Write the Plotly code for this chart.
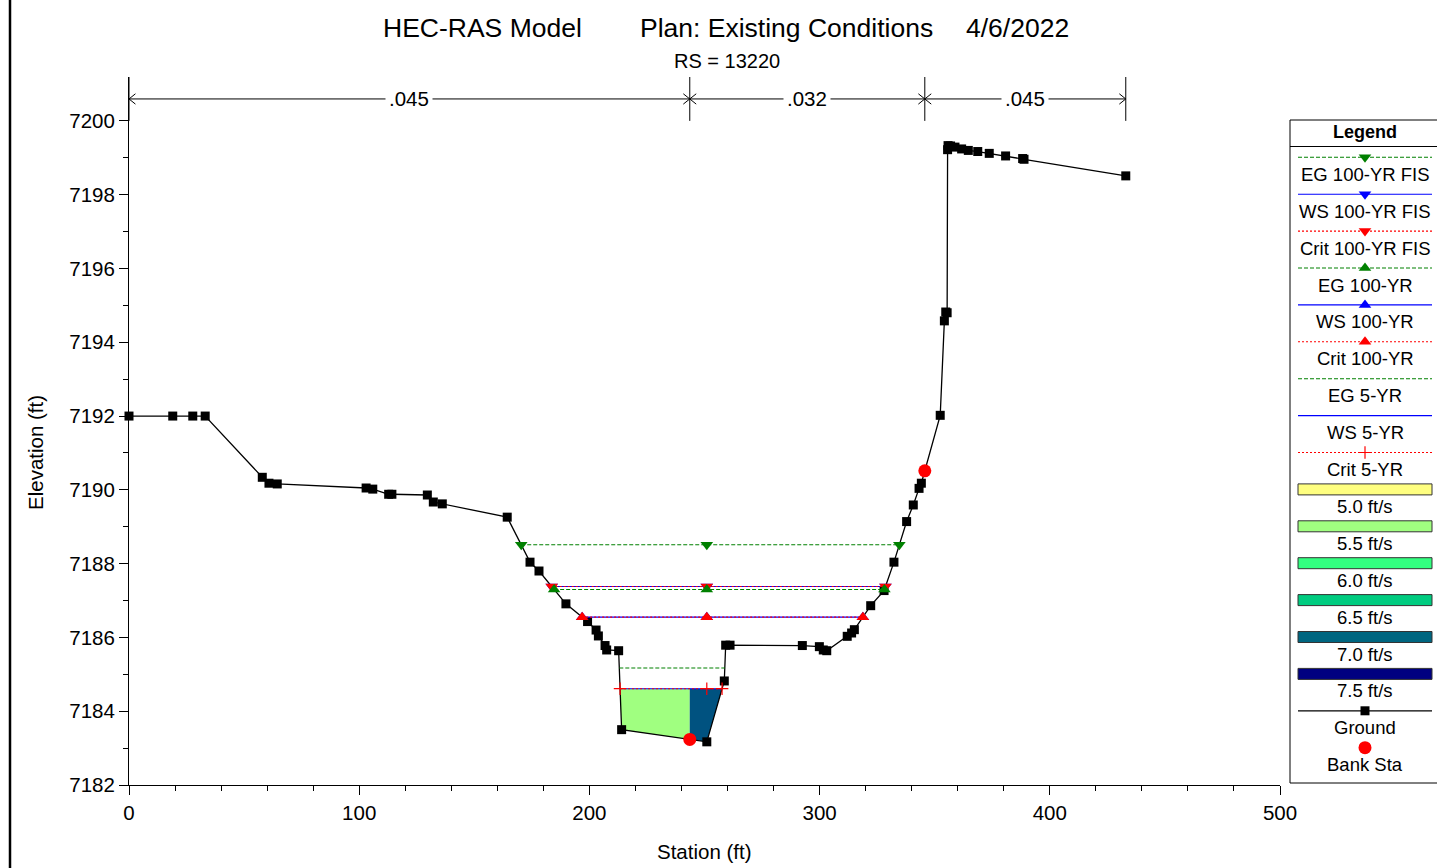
import plotly.graph_objects as go

# ---------------- data ----------------
ground_sta = [0.0, 19.0, 27.7, 33.1, 57.9, 60.8, 64.4, 103.0, 105.9, 112.8, 114.2,
              129.6, 132.2, 136.1, 164.3, 174.2, 178.1, 189.8, 199.2, 202.9, 203.9,
              206.8, 207.5, 212.7, 214.0, 251.0, 258.6, 259.2, 261.1, 292.5, 299.9,
              301.6, 303.1, 312.0, 313.9, 315.1, 322.2, 328.0, 332.3, 337.8, 340.7,
              343.2, 344.2, 352.4, 354.2, 354.8, 355.4, 355.6, 355.8, 356.9, 358.8,
              361.7, 364.6, 368.7, 373.7, 380.8, 388.2, 388.8, 433.0]
ground_elev = [7192.00, 7192.00, 7192.00, 7192.00, 7190.34, 7190.18, 7190.16, 7190.05, 7190.02, 7189.88, 7189.88,
               7189.86, 7189.67, 7189.62, 7189.26, 7188.04, 7187.80, 7186.91, 7186.43, 7186.20, 7186.04,
               7185.78, 7185.66, 7185.64, 7183.50, 7183.17, 7184.82, 7185.79, 7185.79, 7185.78, 7185.75,
               7185.66, 7185.64, 7186.03, 7186.12, 7186.21, 7186.86, 7187.27, 7188.04, 7189.14, 7189.59,
               7190.04, 7190.18, 7192.02, 7194.58, 7194.82, 7194.80, 7199.22, 7199.33, 7199.32, 7199.29,
               7199.24, 7199.20, 7199.17, 7199.12, 7199.05, 7198.98, 7198.96, 7198.51]

bank_sta = [243.6, 345.7]
n_sta = [0.0, 243.6, 345.7, 433.0]
n_val = [".045", ".032", ".045"]

profile_names = ["EG 100-YR FIS", "WS 100-YR FIS", "Crit 100-YR FIS",
                 "EG 100-YR", "WS 100-YR", "Crit 100-YR",
                 "EG 5-YR", "WS 5-YR", "Crit 5-YR"]
profile_elev = [7188.51, 7187.38, 7187.38,
                7187.30, 7186.55, 7186.55,
                7185.17, 7184.61, 7184.61]

vel_legend_vals = [5.0, 5.5, 6.0, 6.5, 7.0, 7.5]
vel_legend_colors = ["#FFFF80", "#A0FF80", "#33FF80", "#00CC80", "#006680", "#000080"]
vel_profile_elev = 7184.61          # WS 5-YR
vel_slice_values = [5.5, 7.1]       # left of bank / channel

title_parts = ["HEC-RAS Model", "Plan: Existing Conditions", "4/6/2022"]
subtitle = "RS = 13220"
x_ticks = [0, 100, 200, 300, 400, 500]
y_ticks = [7182, 7184, 7186, 7188, 7190, 7192, 7194, 7196, 7198, 7200]

# ---------------- styling ----------------
W, H = 1437, 868
ML, MR, MT, MB = 129, 0, 77, 83
PW, PH = W - ML - MR, H - MT - MB
FONT = "Liberation Sans, Arial, sans-serif"
Y_TOP = 7201.19

def px_x(px):
    return (px - ML) / PW

def px_y(py):
    return (H - MB - py) / PH

kind_style = {
    "EG": dict(color="#008000", dash="4px,2px"),
    "WS": dict(color="#0000FF", dash="solid"),
    "Crit": dict(color="#FF0000", dash="2px,2px"),
}
prof_symbols = ["triangle-down"] * 3 + ["triangle-up"] * 3 + [None, None, "cross-thin"]


def marker_for(sym, color):
    if sym == "cross-thin":
        return dict(symbol=sym, size=9, color=color, line=dict(color=color, width=1.2))
    return dict(symbol=sym, size=11, color=color)


def interp_ground(x):
    for i in range(len(ground_sta) - 1):
        a, b = ground_sta[i], ground_sta[i + 1]
        if a <= x <= b:
            if b == a:
                return ground_elev[i]
            t = (x - a) / (b - a)
            return ground_elev[i] + t * (ground_elev[i + 1] - ground_elev[i])
    return ground_elev[-1]


def crossings(elev):
    i0 = ground_elev.index(min(ground_elev))
    i = i0
    while i > 0 and ground_elev[i - 1] < elev:
        i -= 1
    xa, xb, ea, eb = ground_sta[i - 1], ground_sta[i], ground_elev[i - 1], ground_elev[i]
    xl = xa + (ea - elev) / (ea - eb) * (xb - xa)
    j = i0
    while j < len(ground_sta) - 1 and ground_elev[j + 1] < elev:
        j += 1
    xa, xb, ea, eb = ground_sta[j], ground_sta[j + 1], ground_elev[j], ground_elev[j + 1]
    xr = xa + (elev - ea) / (eb - ea) * (xb - xa)
    return xl, xr, ground_sta[i0]


def hex2rgb(h):
    h = h.lstrip("#")
    return tuple(int(h[k:k + 2], 16) for k in (0, 2, 4))


def vel_color(v):
    for k in range(len(vel_legend_vals) - 1):
        a, b = vel_legend_vals[k], vel_legend_vals[k + 1]
        if a <= v <= b:
            t = (v - a) / (b - a)
            c1, c2 = hex2rgb(vel_legend_colors[k]), hex2rgb(vel_legend_colors[k + 1])
            c = [round(c1[m] + t * (c2[m] - c1[m])) for m in range(3)]
            return "rgb(%d,%d,%d)" % tuple(c)
    return vel_legend_colors[-1]


fig = go.Figure()

# velocity distribution fills
xl5, xr5, _ = crossings(vel_profile_elev)
bounds = [xl5, bank_sta[0], xr5]
for k, v in enumerate(vel_slice_values):
    xa, xb = bounds[k], bounds[k + 1]
    px = [xa, xb, xb]
    py = [vel_profile_elev, vel_profile_elev, interp_ground(xb)]
    inner = [(s, e) for s, e in zip(ground_sta, ground_elev) if xa < s < xb]
    for s, e in reversed(inner):
        px.append(s)
        py.append(e)
    px += [xa, xa]
    py += [interp_ground(xa), vel_profile_elev]
    fig.add_trace(go.Scatter(x=px, y=py, mode="lines", fill="toself",
                             fillcolor=vel_color(v), line=dict(width=0),
                             hoverinfo="skip", showlegend=False))

# ground
fig.add_trace(go.Scatter(x=ground_sta, y=ground_elev, mode="lines+markers",
                         line=dict(color="black", width=1.3),
                         marker=dict(symbol="square", size=9, color="black"),
                         cliponaxis=False, showlegend=False, name="Ground"))

# water surfaces
for name, elev, sym in zip(profile_names, profile_elev, prof_symbols):
    st = kind_style[name.split(" ")[0]]
    xl, xr, xt = crossings(elev)
    fig.add_trace(go.Scatter(x=[xl, xr], y=[elev, elev], mode="lines",
                             line=dict(color=st["color"], width=1.1, dash=st["dash"]),
                             showlegend=False, hoverinfo="skip"))
    if sym:
        fig.add_trace(go.Scatter(x=[xl, xt, xr], y=[elev] * 3, mode="markers",
                                 marker=marker_for(sym, st["color"]),
                                 showlegend=False, name=name))

# bank stations
fig.add_trace(go.Scatter(x=bank_sta, y=[interp_ground(s) for s in bank_sta], mode="markers",
                         marker=dict(symbol="circle", size=13, color="#FF0000"),
                         showlegend=False, name="Bank Sta"))

# Manning's n band
y_arrow = 7200 + (Y_TOP - 7200) / 2
shapes = []
for s in n_sta:
    shapes.append(dict(type="line", xref="x", yref="y", x0=s, x1=s, y0=7200, y1=Y_TOP,
                       line=dict(color="black", width=1)))
shapes.append(dict(type="line", xref="x", yref="y", x0=n_sta[0], x1=n_sta[-1],
                   y0=y_arrow, y1=y_arrow, line=dict(color="black", width=1)))
L, hgt = 2.8, 0.14
cx, cy = [], []
for k, s in enumerate(n_sta):
    if k > 0:
        cx += [s - L, s, s - L, None]
        cy += [y_arrow + hgt, y_arrow, y_arrow - hgt, None]
    if k < len(n_sta) - 1:
        cx += [s + L, s, s + L, None]
        cy += [y_arrow + hgt, y_arrow, y_arrow - hgt, None]
fig.add_trace(go.Scatter(x=cx, y=cy, mode="lines", line=dict(color="black", width=1),
                         cliponaxis=False, showlegend=False, hoverinfo="skip"))

annotations = []
for k, v in enumerate(n_val):
    annotations.append(dict(x=(n_sta[k] + n_sta[k + 1]) / 2, y=y_arrow, xref="x", yref="y",
                            text=v, showarrow=False, bgcolor="white", borderpad=3,
                            font=dict(family=FONT, size=20.5, color="black")))

# titles
title_centers = [482.5, 786.5, 1017]
for t, c in zip(title_parts, title_centers):
    annotations.append(dict(x=px_x(c), y=px_y(28), xref="paper", yref="paper", text=t,
                            showarrow=False, xanchor="center", yanchor="middle",
                            font=dict(family=FONT, size=26.5, color="black")))
annotations.append(dict(x=px_x(727), y=px_y(61), xref="paper", yref="paper", text=subtitle,
                        showarrow=False, xanchor="center", yanchor="middle",
                        font=dict(family=FONT, size=20, color="black")))
annotations.append(dict(x=px_x(704.5), y=px_y(851), xref="paper", yref="paper",
                        text="Station (ft)", showarrow=False, yanchor="middle",
                        font=dict(family=FONT, size=20.5, color="black")))
annotations.append(dict(x=px_x(35), y=px_y(453), xref="paper", yref="paper",
                        text="Elevation (ft)", showarrow=False, textangle=-90,
                        xanchor="center", yanchor="middle",
                        font=dict(family=FONT, size=20.5, color="black")))

# left window border
shapes.append(dict(type="line", xref="paper", yref="paper", x0=px_x(10), x1=px_x(10),
                   y0=px_y(0), y1=px_y(H), line=dict(color="black", width=2.5)))

# ---------------- custom legend (pixel axes x2/y2) ----------------
LX0, LX1, LTOP, LBOT = 1290, 1445, 120, 783
shapes.append(dict(type="rect", xref="paper", yref="paper", x0=px_x(LX0), x1=px_x(LX1),
                   y0=px_y(LBOT), y1=px_y(LTOP), line=dict(color="black", width=1),
                   fillcolor="rgba(0,0,0,0)"))
shapes.append(dict(type="line", xref="paper", yref="paper", x0=px_x(LX0), x1=px_x(LX1),
                   y0=px_y(146.5), y1=px_y(146.5), line=dict(color="black", width=1)))
annotations.append(dict(x=1365, y=132, xref="x2", yref="y2", text="<b>Legend</b>",
                        showarrow=False, font=dict(family=FONT, size=18, color="black")))

SX0, SX1, SXC = 1298, 1432, 1365
Y0, DY, LAB = 157.3, 36.9, 17.0
items = []
for name, sym in zip(profile_names, prof_symbols):
    items.append(("line", name, sym))
for v, c in zip(vel_legend_vals, vel_legend_colors):
    items.append(("box", "%.1f ft/s" % v, c))
items.append(("ground", "Ground", None))
items.append(("bank", "Bank Sta", None))

for i, (kind, label, extra) in enumerate(items):
    yl = Y0 + DY * i
    if kind == "line":
        st = kind_style[label.split(" ")[0]]
        fig.add_trace(go.Scatter(x=[SX0, SX1], y=[yl, yl], xaxis="x2", yaxis="y2", mode="lines",
                                 line=dict(color=st["color"], width=1.1, dash=st["dash"]),
                                 showlegend=False, hoverinfo="skip"))
        if extra:
            fig.add_trace(go.Scatter(x=[SXC], y=[yl], xaxis="x2", yaxis="y2", mode="markers",
                                     marker=marker_for(extra, st["color"]),
                                     showlegend=False, hoverinfo="skip"))
    elif kind == "box":
        shapes.append(dict(type="rect", xref="x2", yref="y2", x0=SX0, x1=SX1,
                           y0=yl - 5.5, y1=yl + 5.5, fillcolor=extra,
                           line=dict(color="#333333", width=1)))
    elif kind == "ground":
        fig.add_trace(go.Scatter(x=[SX0, SX1], y=[yl, yl], xaxis="x2", yaxis="y2", mode="lines",
                                 line=dict(color="black", width=1.3),
                                 showlegend=False, hoverinfo="skip"))
        fig.add_trace(go.Scatter(x=[SXC], y=[yl], xaxis="x2", yaxis="y2", mode="markers",
                                 marker=dict(symbol="square", size=9, color="black"),
                                 showlegend=False, hoverinfo="skip"))
    elif kind == "bank":
        fig.add_trace(go.Scatter(x=[SXC], y=[yl], xaxis="x2", yaxis="y2", mode="markers",
                                 marker=dict(symbol="circle", size=13, color="#FF0000"),
                                 showlegend=False, hoverinfo="skip"))
    annotations.append(dict(x=SXC, y=yl + LAB, xref="x2", yref="y2", text=label,
                            showarrow=False, xanchor="center", yanchor="middle",
                            font=dict(family=FONT, size=18.5, color="black")))

axis_font = dict(family=FONT, size=20.5, color="black")
fig.update_layout(
    width=W, height=H, autosize=False,
    margin=dict(l=ML, r=MR, t=MT, b=MB, pad=0, autoexpand=False),
    paper_bgcolor="white", plot_bgcolor="white",
    showlegend=False,
    font=dict(family=FONT, color="black"),
    xaxis=dict(domain=[0, px_x(1280)], range=[0, 500], tickvals=x_ticks,
               ticks="outside", ticklen=9, tickwidth=1, tickcolor="black",
               showline=True, linecolor="black", linewidth=1, automargin=False,
               showgrid=False, zeroline=False, tickfont=axis_font,
               minor=dict(dtick=20, tick0=0, ticks="outside", ticklen=5,
                          tickcolor="black", showgrid=False),
               anchor="y"),
    yaxis=dict(domain=[0, 1], range=[7182, Y_TOP], tickvals=y_ticks,
               ticks="outside", ticklen=9, tickwidth=1, tickcolor="black",
               showline=True, linecolor="black", linewidth=1, automargin=False,
               showgrid=False, zeroline=False, tickfont=axis_font,
               minor=dict(tickvals=[t + 1 for t in y_ticks[:-1]], ticks="outside",
                          ticklen=5, tickcolor="black", showgrid=False),
               anchor="x"),
    xaxis2=dict(domain=[px_x(LX0), 1], range=[LX0, W], visible=False, anchor="y2",
                fixedrange=True, automargin=False),
    yaxis2=dict(domain=[0, 1], range=[H - MB, MT], visible=False, anchor="x2",
                fixedrange=True, automargin=False),
    shapes=shapes,
    annotations=annotations,
)

fig.write_html("out.html", config={"responsive": False})
